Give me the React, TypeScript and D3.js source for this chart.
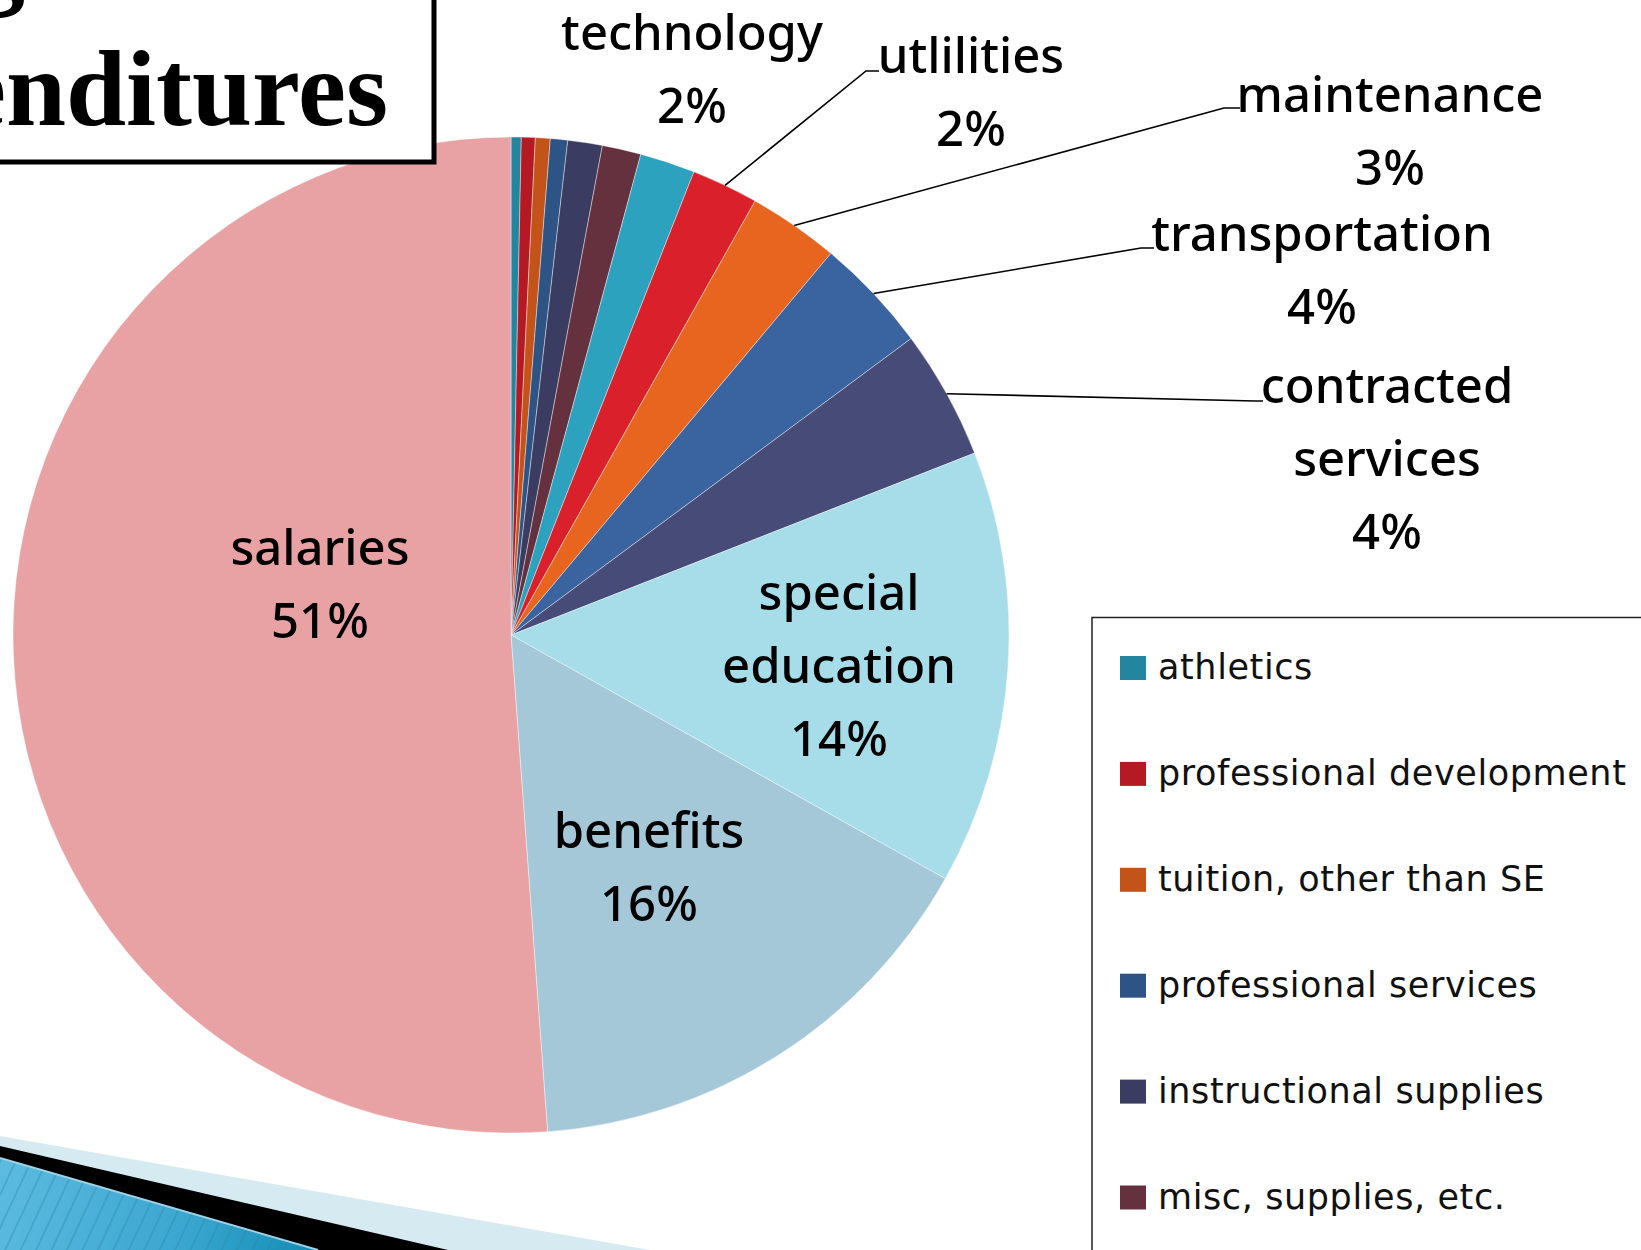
import React from 'react';
import * as d3 from 'd3';

// ---- data ----
const categories = [
  'athletics',
  'professional development',
  'tuition, other than SE',
  'professional services',
  'instructional supplies',
  'misc, supplies, etc.',
  'technology',
  'utlilities',
  'maintenance',
  'transportation',
  'contracted services',
  'special education',
  'benefits',
  'salaries',
];
const values = [0.33, 0.45, 0.48, 0.56, 1.12, 1.26, 1.79, 2.17, 2.95, 3.75, 4.2, 14.1, 15.7, 51.2];
const colors = [
  '#23869E', '#B51A24', '#C4531A', '#2E5385', '#3A3C62', '#66313F', '#2CA2BF',
  '#D9202B', '#E8651F', '#3A64A0', '#474B78', '#A6DDE9', '#A4C8D8', '#E8A2A4',
];
const legendCategories = categories.slice(0, 6);
const labelLines: Record<string, string[]> = {
  technology: ['technology'],
  utlilities: ['utlilities'],
  maintenance: ['maintenance'],
  transportation: ['transportation'],
  'contracted services': ['contracted', 'services'],
  'special education': ['special', 'education'],
  benefits: ['benefits'],
  salaries: ['salaries'],
};

// ---- layout ----
const W = 1641, H = 1250;
const CX = 511, CY = 635, R = 498;
const LINE_H = 73;
const labelLayout: Record<string, { x: number; y: number; leader?: [number, number][] }> = {
  technology: { x: 692, y: 50 },
  utlilities: { x: 971, y: 73, leader: [[866, 71], [879, 71]] },
  maintenance: { x: 1390, y: 112, leader: [[1224, 108], [1240, 108]] },
  transportation: { x: 1322, y: 251, leader: [[1141, 248], [1154, 248]] },
  'contracted services': { x: 1387, y: 403, leader: [[1255, 401], [1263, 401]] },
  'special education': { x: 839, y: 610 },
  benefits: { x: 649, y: 848 },
  salaries: { x: 320, y: 565 },
};

const LABEL_FONT = "'Noto Sans', 'Open Sans', sans-serif";
const LEGEND_FONT = "'DejaVu Sans', Verdana, sans-serif";

export default function App() {
  const pie = d3.pie<number>().sort(null).value((d) => d);
  const arcs = pie(values);
  const arc = d3.arc<d3.PieArcDatum<number>>().innerRadius(0).outerRadius(R);

  const legendY = d3.scaleLinear().domain([0, 1]).range([656, 656 + 105.9]);

  return (
    <svg width={W} height={H} style={{ position: 'absolute', left: 0, top: 0, background: '#fff' }}>
      <defs>
        <linearGradient id="blueGrad" gradientUnits="userSpaceOnUse" x1="0" y1="1160" x2="320" y2="1250">
          <stop offset="0" stopColor="#5DBBE0" />
          <stop offset="0.6" stopColor="#3AA6CF" />
          <stop offset="1" stopColor="#128CB4" />
        </linearGradient>
        <pattern id="stripes" width="14" height="14" patternUnits="userSpaceOnUse" patternTransform="rotate(25)">
          <line x1="1" y1="0" x2="1" y2="14" stroke="#2784A8" strokeOpacity="0.45" strokeWidth="1.5" />
        </pattern>
      </defs>

      {/* pie */}
      <g transform={`translate(${CX},${CY})`}>
        {arcs.map((a, i) => (
          <path key={categories[i]} d={arc(a) || ''} fill={colors[i]} stroke="#fff" strokeOpacity={0.5} strokeWidth={0.8} />
        ))}
      </g>

      {/* leader lines */}
      {arcs.map((a, i) => {
        const lay = labelLayout[categories[i]];
        if (!lay || !lay.leader) return null;
        const mid = (a.startAngle + a.endAngle) / 2;
        const sx = CX + R * Math.sin(mid);
        const sy = CY - R * Math.cos(mid);
        const pts: [number, number][] = [[sx, sy], ...lay.leader];
        return (
          <path key={'l' + i} d={d3.line()(pts) || ''} fill="none" stroke="#000" strokeWidth={1.6} />
        );
      })}

      {/* data labels */}
      {arcs.map((a, i) => {
        const name = categories[i];
        const lay = labelLayout[name];
        if (!lay) return null;
        const lines = [...labelLines[name], `${Math.round(values[i])}%`];
        return (
          <text key={'t' + i} textAnchor="middle" fontFamily={LABEL_FONT} fontSize={49} fill="#000" fontWeight={500}>
            {lines.map((ln, j) => (
              <tspan key={j} x={lay.x} y={lay.y + j * LINE_H}>{ln}</tspan>
            ))}
          </text>
        );
      })}

      {/* title box */}
      <rect x={-10} y={-10} width={444} height={172} fill="#fff" stroke="#000" strokeWidth={5} />
      <text x={25} y={-6} textAnchor="end" fontFamily="'Liberation Serif', 'Times New Roman', serif" fontWeight="bold" fontSize={108}>Spending</text>
      <text x={388} y={125} textAnchor="end" fontFamily="'Liberation Serif', 'Times New Roman', serif" fontWeight="bold" fontSize={108}>Expenditures</text>

      {/* legend */}
      <rect x={1092} y={617.5} width={600} height={700} fill="#fff" stroke="#222" strokeWidth={1.5} />
      {legendCategories.map((c, i) => (
        <g key={'lg' + i}>
          <rect x={1120} y={legendY(i)} width={26} height={24} fill={colors[i]} />
          <text x={1158} y={legendY(i) + 23} fontFamily={LEGEND_FONT} fontSize={35} letterSpacing={0.6} fill="#111">{c}</text>
        </g>
      ))}

      {/* decorative bottom-left bands */}
      <polygon points="0,1136 650,1250 0,1250" fill="#D6EAF2" />
      <polygon points="0,1146 448,1250 0,1250" fill="#000" />
      <polygon points="0,1158 318,1250 0,1250" fill="url(#blueGrad)" />
      <polygon points="0,1158 318,1250 0,1250" fill="url(#stripes)" />
      <line x1={0} y1={1158} x2={318} y2={1250} stroke="#9CD3E6" strokeWidth={2} />
    </svg>
  );
}
